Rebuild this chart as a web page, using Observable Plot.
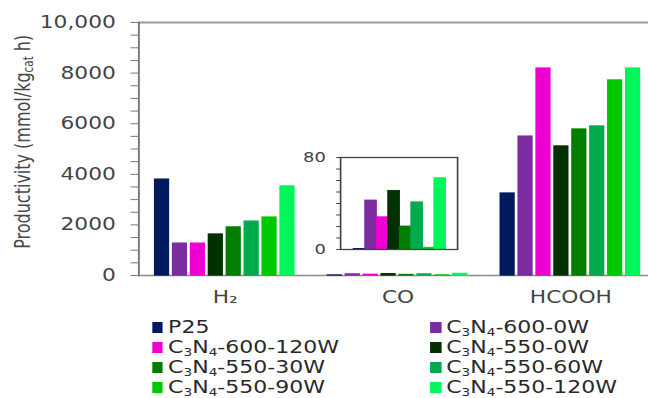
<!DOCTYPE html>
<html><head><meta charset="utf-8">
<script src="https://cdn.jsdelivr.net/npm/d3@7"></script>
<script src="https://cdn.jsdelivr.net/npm/@observablehq/plot@0.6"></script>
<style>
body{margin:0;background:#fff;overflow:hidden;width:648px;height:398px}
#wrap{position:relative;width:506px;height:398px;transform:scaleX(1.28);transform-origin:0 0;font-family:"DejaVu Sans",Verdana,sans-serif}
#main{position:absolute;left:0;top:0;width:506px}
#inset{position:absolute;left:230px;top:147px;width:130px}
#ytitle{position:absolute;left:-110.5px;top:130px;width:260px;text-align:center;white-space:nowrap;font-size:16px;line-height:19px;color:#4a4a4a;transform:rotate(-90deg)}
#ytitle sub{font-size:0.65em;vertical-align:-0.25em}
.lg{position:absolute;height:16px;display:flex;align-items:center;white-space:nowrap;font-size:17.2px;line-height:16px;color:#2a2a2a}
.lg .sw{width:8.6px;height:11px;margin-right:4px;flex:none}
.lg sub{font-size:0.62em;vertical-align:-0.25em;line-height:0}
</style></head><body>
<div id="wrap">
 <div id="main"></div>
 <div id="inset"></div>
 <div id="ytitle">Productivity (mmol/kg<sub>cat</sub> h)</div>
 <div id="legend"></div>
</div>
<script>
const categories = ["H₂", "CO", "HCOOH"];
const series = ["P25", "C3N4-600-0W", "C3N4-600-120W", "C3N4-550-0W", "C3N4-550-30W", "C3N4-550-60W", "C3N4-550-90W", "C3N4-550-120W"];
const colors = ["#021a5e", "#7b2c9f", "#ee00d2", "#013001", "#017e01", "#00ab4c", "#00c800", "#00f65a"];
const h2Values = [3790, 1260, 1260, 1620, 1900, 2130, 2290, 3520];
const coValues = [0.5, 42.6, 28, 51, 20, 41, 1.5, 62];
const hcoohValues = [3240, 5490, 8180, 5100, 5770, 5890, 7710, 8180];
const yTickValues = [0, 2000, 4000, 6000, 8000, 10000];
const yTickLabels = ["0", "2000", "4000", "6000", "8000", "10,000"];
const insetTickValues = [0, 80];
const insetTickLabels = ["0", "80"];

const valuesByCategory = [h2Values, coValues, hcoohValues];
const rows = [];
categories.forEach((c, ci) => series.forEach((s, si) => rows.push({category: c, series: s, value: valuesByCategory[ci][si]})));
const insetRows = series.map((s, si) => ({series: s, value: coValues[si]}));

const main = Plot.plot({
  width: 506, height: 310,
  marginLeft: 107.8, marginRight: -7, marginTop: 22, marginBottom: 35,
  style: {fontFamily: "DejaVu Sans, Verdana, sans-serif", fontSize: "17px", color: "#444", background: "transparent", overflow: "visible"},
  fx: {domain: categories, padding: 0, label: null},
  x: {domain: series, paddingInner: 0.13, paddingOuter: 0.75, axis: null},
  y: {domain: [0, 10000], axis: null},
  color: {domain: series, range: colors},
  marks: [
    Plot.ruleY([0], {stroke: "#8a8a8a", strokeWidth: 1.5}),
    Plot.ruleY([10000], {stroke: "#9a9a9a", strokeWidth: 2}),
    Plot.barY(rows, {fx: "category", x: "series", y: "value", fill: "series", stroke: "series", strokeWidth: 1.3, insetLeft: 0.7, insetRight: 0.7}),
    Plot.frame({anchor: "left", facetAnchor: "left", stroke: "#777", strokeWidth: 1.5}),
    Plot.axisY({ticks: d3.range(0, 10001, 500), tickSize: 6, tickPadding: 12, stroke: "#777", label: null,
      tickFormat: d => { const i = yTickValues.indexOf(d); return i >= 0 ? yTickLabels[i] : ""; }}),
    Plot.axisFx({anchor: "bottom", tickSize: 0, tickPadding: 15, label: null})
  ]
});
document.getElementById("main").append(main);

const inset = Plot.plot({
  width: 130, height: 107,
  marginLeft: 35.6, marginRight: 3, marginTop: 10, marginBottom: 5,
  style: {fontFamily: "DejaVu Sans, Verdana, sans-serif", fontSize: "14px", color: "#444", background: "transparent", overflow: "visible"},
  x: {domain: series, paddingInner: 0.05, paddingOuter: 0.82, axis: null},
  y: {domain: [0, 80], axis: null},
  color: {domain: series, range: colors},
  marks: [
    Plot.barY(insetRows, {x: "series", y: "value", fill: "series", stroke: "series", strokeWidth: 0.8}),
    Plot.frame({stroke: "#444", strokeWidth: 1.3}),
    Plot.axisY({ticks: d3.range(0, 81, 10), tickSize: 3, tickPadding: 8.5, stroke: "#444", label: null,
      tickFormat: d => { const i = insetTickValues.indexOf(d); return i >= 0 ? insetTickLabels[i] : ""; }})
  ]
});
document.getElementById("inset").append(inset);

const legend = document.getElementById("legend");
const colX = [118.75, 336];
series.forEach((s, i) => {
  const r = Math.floor(i / 2), c = i % 2;
  const el = document.createElement("div");
  el.className = "lg";
  el.style.left = colX[c] + "px";
  el.style.top = (319 + r * 20.1) + "px";
  const sw = document.createElement("span");
  sw.className = "sw";
  sw.style.background = colors[i];
  el.append(sw);
  const t = document.createElement("span");
  t.innerHTML = s.replace("C3N4", "C<sub>3</sub>N<sub>4</sub>");
  el.append(t);
  legend.append(el);
});
</script>
</body></html>
